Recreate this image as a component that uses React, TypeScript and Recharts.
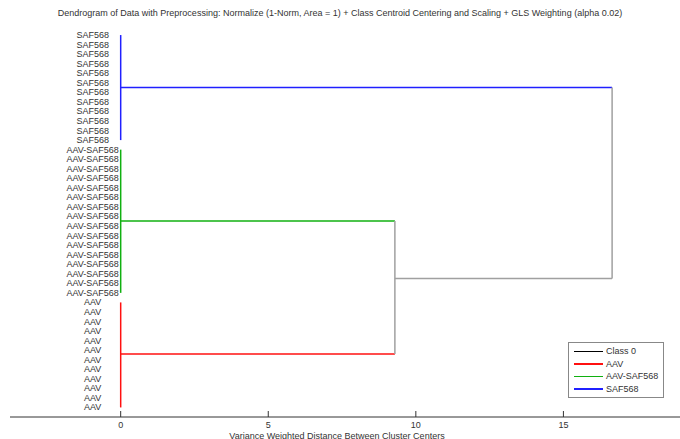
import { ScatterChart, Scatter, XAxis, YAxis } from 'recharts'

// leaf groups, top to bottom
const leafGroups = ['SAF568', 'AAV-SAF568', 'AAV']
const leafCounts = [12, 16, 12]
const groupNodeY = [6.5, 20.47, 34.4]
const groupColors = ['#2020ff', '#10b010', '#ff1010']

// upper links: AAV-SAF568 + AAV, then + SAF568
const mergeDist = [9.29, 16.65]
const mergeNodeY = [26.5]
const linkGray = '#a0a0a0'

const legendNames = ['Class 0', 'AAV', 'AAV-SAF568', 'SAF568']
const legendColors = ['#000000', '#ff1010', '#10b010', '#2020ff']
const xTicks = [0, 5, 10, 15]

const LABEL_X = -0.95
const FONT = '"Liberation Sans", Arial, sans-serif'

type Pt = { x: number; y: number }
type Seg = { pts: Pt[]; color: string }

const leafLabels: { x: number; y: number; label: string }[] = []
const starts: number[] = []
let idx = 1
leafGroups.forEach((g, gi) => {
  starts.push(idx)
  for (let i = 0; i < leafCounts[gi]; i++) {
    leafLabels.push({ x: LABEL_X, y: idx, label: g })
    idx++
  }
})

const segments: Seg[] = []
leafGroups.forEach((_, gi) => {
  segments.push({
    pts: [{ x: 0, y: starts[gi] }, { x: 0, y: starts[gi] + leafCounts[gi] - 1 }],
    color: groupColors[gi],
  })
  segments.push({
    pts: [{ x: 0, y: groupNodeY[gi] }, { x: gi === 0 ? mergeDist[1] : mergeDist[0], y: groupNodeY[gi] }],
    color: groupColors[gi],
  })
})
segments.push({ pts: [{ x: mergeDist[0], y: groupNodeY[1] }, { x: mergeDist[0], y: groupNodeY[2] }], color: linkGray })
segments.push({ pts: [{ x: mergeDist[0], y: mergeNodeY[0] }, { x: mergeDist[1], y: mergeNodeY[0] }], color: linkGray })
segments.push({ pts: [{ x: mergeDist[1], y: groupNodeY[0] }, { x: mergeDist[1], y: mergeNodeY[0] }], color: linkGray })

const noDot = () => <g />

const LeafText = (props: any) => (
  <text x={props.cx} y={props.cy} textAnchor="middle" dominantBaseline="central"
    fontSize={9} fill="#333" fontFamily={FONT}>{props.payload.label}</text>
)

const Tick = (props: any) => {
  const { x, y, payload } = props
  return (
    <g>
      <line x1={x} y1={y} x2={x} y2={y - 6} stroke="#333" />
      <text x={x} y={y + 10.5} textAnchor="middle" fontSize={9} fill="#333" fontFamily={FONT}>{payload.value}</text>
    </g>
  )
}

const LegendBox = () => (
  <div style={{ position: 'absolute', left: 568, top: 342, boxSizing: 'border-box', border: '1px solid #888', background: '#fff', width: 96, height: 56, padding: '2px 0', fontSize: 9, color: '#333' }}>
    {legendNames.map((n, i) => (
      <div key={n} style={{ display: 'flex', alignItems: 'center', height: 12.6 }}>
        <div style={{ width: 29, height: 1.5, background: legendColors[i], marginLeft: 5, marginRight: 3 }} />
        <span>{n}</span>
      </div>
    ))}
  </div>
)

export default function App() {
  return (
    <div style={{ position: 'relative', width: 680, height: 439, overflow: 'hidden', background: '#fff', fontFamily: FONT }}>
      <style>{'body{margin:0}'}</style>
      <div style={{ position: 'absolute', top: 8, left: 0, width: 680, textAlign: 'center', fontSize: 9, color: '#333' }}>
        Dendrogram of Data with Preprocessing: Normalize (1-Norm, Area = 1) + Class Centroid Centering and Scaling + GLS Weighting (alpha 0.02)
      </div>
      <ScatterChart width={680} height={439} margin={{ top: 25.5, right: 0, bottom: 0, left: 10 }}>
        <XAxis type="number" dataKey="x" domain={[-3.75, 18.95]} allowDataOverflow ticks={xTicks}
          tickLine={false} tickSize={0} tickMargin={0} tick={<Tick />} height={22}
          axisLine={{ stroke: '#333' }} />
        <YAxis type="number" dataKey="y" domain={[0, 41]} reversed hide width={0} />
        {segments.map((s, i) => (
          <Scatter key={i} data={s.pts} line={{ stroke: s.color, strokeWidth: 1.5 }} lineType="joint"
            shape={noDot} legendType="none" isAnimationActive={false} />
        ))}
        <Scatter data={leafLabels} shape={<LeafText />} legendType="none" isAnimationActive={false} />
      </ScatterChart>
      <LegendBox />
      <div style={{ position: 'absolute', top: 431, left: 0, width: 680, textAlign: 'center', fontSize: 9, color: '#333' }}>
        <span style={{ position: 'relative', left: -3 }}>Variance Weighted Distance Between Cluster Centers</span>
      </div>
    </div>
  )
}
